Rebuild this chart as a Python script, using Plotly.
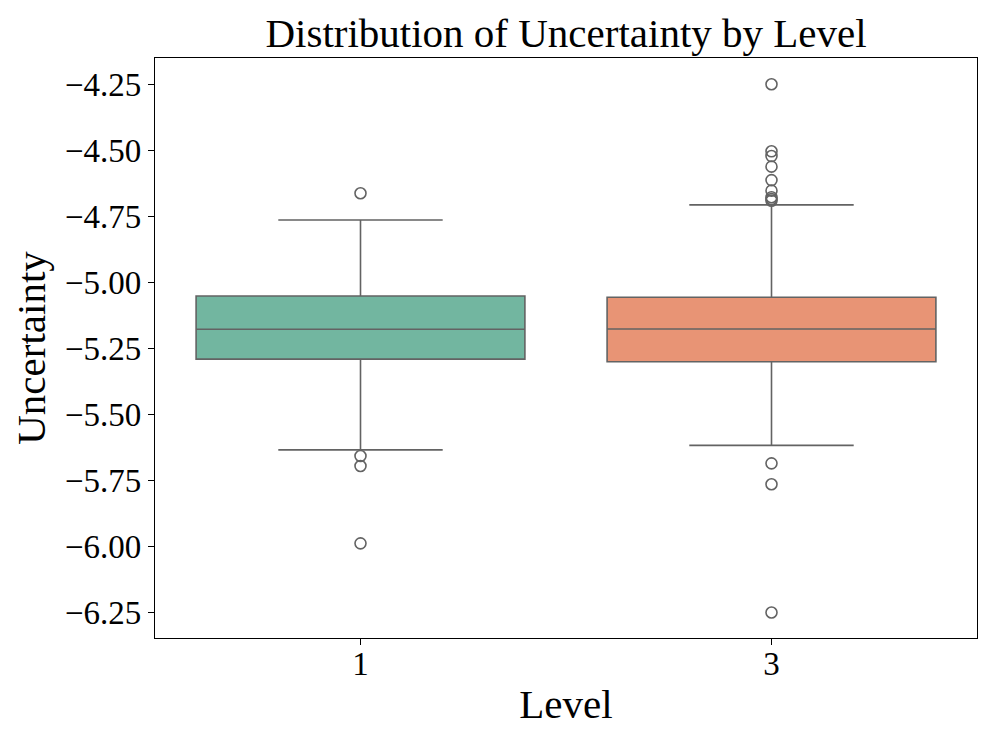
import plotly.graph_objects as go

levels = ["1", "3"]
q1 = [-5.292, -5.302]
median = [-5.179, -5.178]
q3 = [-5.053, -5.058]
lower_whisker = [-5.636, -5.619]
upper_whisker = [-4.765, -4.708]
outliers_1 = [-4.664, -5.659, -5.697, -5.990]
outliers_3 = [-4.251, -4.505, -4.523, -4.563, -4.614, -4.654, -4.679, -4.686, -4.692,
              -5.687, -5.766, -6.252]
fill_colors = ["rgb(114,182,160)", "rgb(232,148,117)"]
line_color = "rgb(99,99,99)"

fig = go.Figure()
for i, lv in enumerate(levels):
    fig.add_trace(go.Box(
        x=[lv], q1=[q1[i]], median=[median[i]], q3=[q3[i]],
        lowerfence=[lower_whisker[i]], upperfence=[upper_whisker[i]],
        fillcolor=fill_colors[i], line=dict(color=line_color, width=1.6),
        width=0.8, whiskerwidth=0.5, boxpoints=False, showlegend=False,
        hoverinfo="skip",
    ))

for lv, outs in zip(levels, [outliers_1, outliers_3]):
    fig.add_trace(go.Scatter(
        x=[lv] * len(outs), y=outs, mode="markers",
        marker=dict(symbol="circle-open", size=11, color=line_color,
                    line=dict(width=1.6, color=line_color)),
        showlegend=False,
    ))

font_family = "Liberation Serif, Times New Roman, serif"
fig.update_layout(
    width=997, height=747,
    margin=dict(l=147, r=28, t=50, b=117),
    paper_bgcolor="white", plot_bgcolor="white",
    font=dict(family=font_family, color="black"),
    title=dict(text="Distribution of Uncertainty by Level", x=0.5597, xanchor="center",
               y=0.967, yanchor="middle", font=dict(size=41, family=font_family)),
)
fig.update_xaxes(
    type="category", categoryorder="array", categoryarray=levels,
    range=[-0.5, 1.5], showgrid=False, zeroline=False,
    showline=True, linecolor="black", linewidth=1.2, mirror=True,
    ticks="outside", ticklen=6, tickcolor="black", tickwidth=1.2,
    ticklabelstandoff=-10,
    tickfont=dict(size=33), title=dict(text="Level", font=dict(size=41), standoff=8),
)
fig.update_yaxes(
    range=[-6.3485, -4.1515], tickvals=[-4.25, -4.5, -4.75, -5.0, -5.25, -5.5, -5.75, -6.0, -6.25],
    ticktext=["\u22124.25", "\u22124.50", "\u22124.75", "\u22125.00", "\u22125.25", "\u22125.50",
              "\u22125.75", "\u22126.00", "\u22126.25"],
    showgrid=False, zeroline=False,
    showline=True, linecolor="black", linewidth=1.2, mirror=True,
    ticks="outside", ticklen=6, tickcolor="black", tickwidth=1.2,
    tickfont=dict(size=33), title=dict(text="Uncertainty", font=dict(size=41), standoff=6),
)

fig.write_html("out.html")
